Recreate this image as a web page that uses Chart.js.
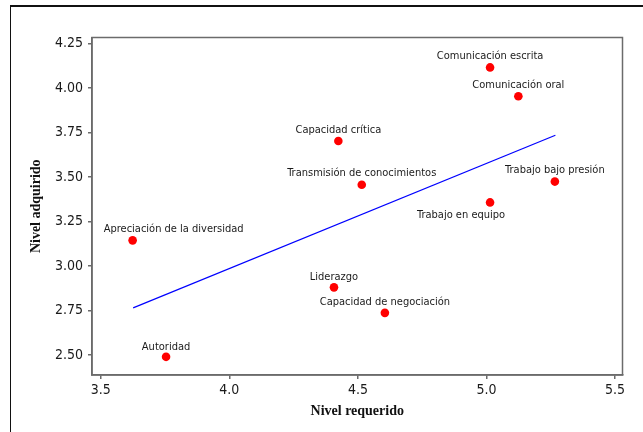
<!DOCTYPE html>
<html>
<head>
<meta charset="utf-8">
<script src="https://cdn.jsdelivr.net/npm/chart.js@4"></script>
<style>
    html, body { margin: 0; padding: 0; background: #fff; }
    #wrap { position: relative; width: 643px; height: 432px; overflow: hidden; }
    #frame {
        position: absolute; left: 10px; top: 5px; width: 700px; height: 500px;
        border-left: 1px solid #111; border-top: 2px solid #111;
    }
    #chart { position: absolute; left: 0; top: 0; }
</style>
</head>
<body>
<div id="wrap">
    <div id="frame"></div>
    <canvas id="chart" width="643" height="432"></canvas>
</div>
<script>
const competencias = [
    'Comunicación escrita', 'Comunicación oral', 'Capacidad crítica',
    'Transmisión de conocimientos', 'Trabajo bajo presión', 'Trabajo en equipo',
    'Apreciación de la diversidad', 'Liderazgo', 'Capacidad de negociación', 'Autoridad'
];
const nivelRequerido = [5.014, 5.124, 4.424, 4.515, 5.266, 5.014, 3.624, 4.407, 4.605, 3.754];
const nivelAdquirido = [4.115, 3.953, 3.702, 3.456, 3.474, 3.357, 3.144, 2.880, 2.737, 2.490];

// recta de ajuste
const ajusteX = [3.626, 5.268];
const ajusteY = [2.765, 3.734];

const xTicks = [3.5, 4.0, 4.5, 5.0, 5.5];
const yTicks = [2.50, 2.75, 3.00, 3.25, 3.50, 3.75, 4.00, 4.25];

// where each label sits relative to its point (px)
const labelShift = [
    [0, -11], [0, -11], [0, -11], [0, -11.5], [0, -11],
    [-29, 13], [41, -11], [0, -10], [0, -11], [0, -10]
];

const SANS = "'DejaVu Sans Condensed', 'Liberation Sans', sans-serif";
const SERIF = "'Liberation Serif', 'DejaVu Serif', serif";
const AXIS = '#6b6b6b';

const pointLabels = {
    id: 'pointLabels',
    afterDatasetsDraw(chart) {
        const { ctx, scales: { x, y } } = chart;
        ctx.save();
        ctx.font = `11px ${SANS}`;
        ctx.fillStyle = '#1a1a1a';
        ctx.textAlign = 'center';
        ctx.textBaseline = 'middle';
        competencias.forEach((name, i) => {
            const px = x.getPixelForValue(nivelRequerido[i]) + labelShift[i][0];
            const py = y.getPixelForValue(nivelAdquirido[i]) + labelShift[i][1];
            ctx.fillText(name, px, py);
        });
        ctx.restore();
    }
};

const plotBox = {
    id: 'plotBox',
    afterDraw(chart) {
        const { ctx, chartArea: a } = chart;
        ctx.save();
        ctx.strokeStyle = AXIS;
        ctx.lineWidth = 1.5;
        ctx.strokeRect(a.left, a.top, a.right - a.left, a.bottom - a.top);
        ctx.restore();
    }
};

new Chart(document.getElementById('chart'), {
    type: 'scatter',
    data: {
        datasets: [
            {
                label: 'Competencias',
                data: nivelRequerido.map((v, i) => ({ x: v, y: nivelAdquirido[i] })),
                backgroundColor: '#ff0000',
                borderWidth: 0,
                pointRadius: 4.3,
            },
            {
                label: 'Ajuste',
                data: ajusteX.map((v, i) => ({ x: v, y: ajusteY[i] })),
                showLine: true,
                borderColor: '#0000ff',
                borderWidth: 1.2,
                pointRadius: 0,
            }
        ]
    },
    options: {
        responsive: false,
        animation: false,
        layout: { padding: { top: 37.5, right: 20.5, left: 0, bottom: 0 } },
        plugins: { legend: { display: false }, tooltip: { enabled: false } },
        scales: {
            x: {
                min: 3.466, max: 5.529,
                afterBuildTicks: s => { s.ticks = xTicks.map(v => ({ value: v })); },
                afterFit: s => { s.height = 57; },
                ticks: {
                    callback: v => v.toFixed(1),
                    font: { family: SANS, size: 14 },
                    color: '#1a1a1a',
                    padding: 3,
                    maxRotation: 0,
                },
                grid: { drawOnChartArea: false, tickLength: 4, color: AXIS, lineWidth: 1.5 },
                border: { color: AXIS, width: 1.5 },
                title: {
                    display: true, text: 'Nivel requerido', color: '#111',
                    font: { family: SERIF, size: 14, weight: 'bold' },
                    padding: { top: 0, bottom: 12 }
                }
            },
            y: {
                min: 2.388, max: 4.283,
                afterBuildTicks: s => { s.ticks = yTicks.map(v => ({ value: v })); },
                afterFit: s => { s.width = 92; },
                ticks: {
                    callback: v => v.toFixed(2),
                    font: { family: SANS, size: 14 },
                    color: '#1a1a1a',
                    padding: 5,
                },
                grid: { drawOnChartArea: false, tickLength: 4, color: AXIS, lineWidth: 1.5 },
                border: { color: AXIS, width: 1.5 },
                title: {
                    display: true, text: 'Nivel adquirido', color: '#111',
                    font: { family: SERIF, size: 14, weight: 'bold' },
                    padding: { top: 28, bottom: 0 }
                }
            }
        }
    },
    plugins: [pointLabels, plotBox]
});
</script>
</body>
</html>
